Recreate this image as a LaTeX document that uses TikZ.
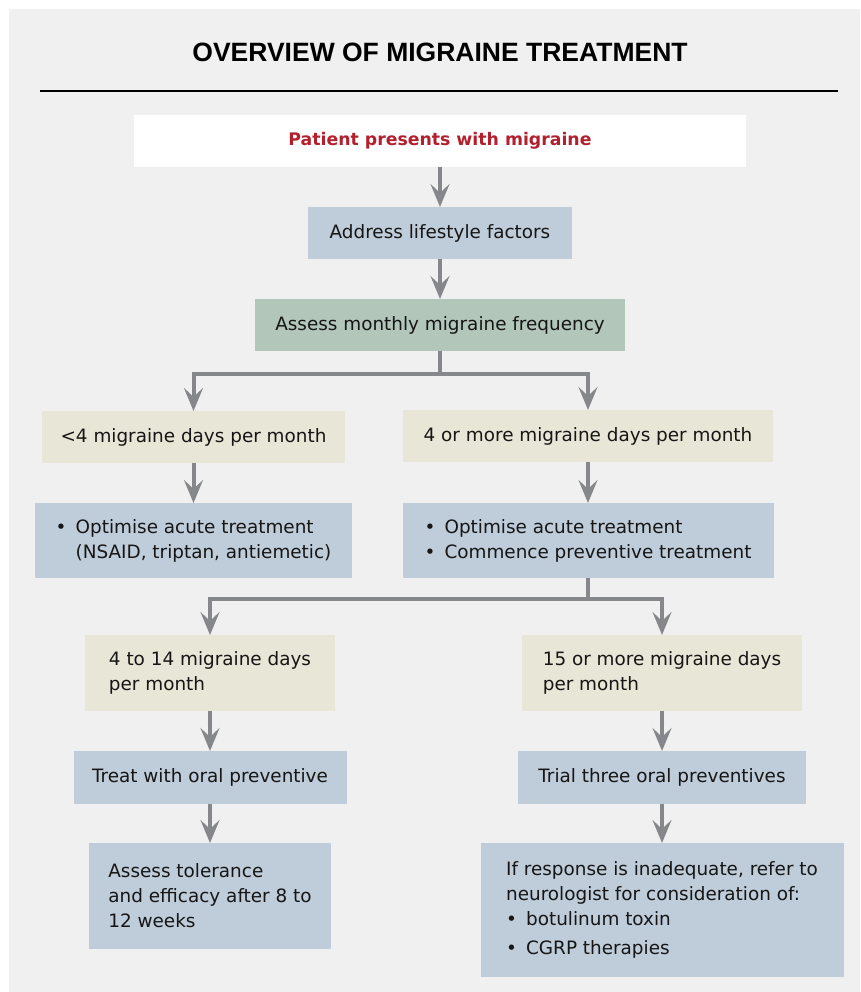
\documentclass[tikz,border=0pt]{standalone}
\usepackage{fontspec}
\setmainfont{DejaVu Sans}
\newfontfamily\headfont{Liberation Sans}
\usetikzlibrary{arrows.meta,positioning}
\definecolor{ink}{HTML}{161616}
\definecolor{bgcol}{HTML}{F0F0F0}
\definecolor{actcol}{HTML}{BFCCD9}
\definecolor{condcol}{HTML}{E8E6D6}
\definecolor{keycol}{HTML}{B2C6BA}
\definecolor{redcol}{HTML}{B2202D}
\definecolor{arrcol}{HTML}{86878B}
\newcommand{\bul}{\makebox[20pt][l]{\textbullet}}

\begin{document}
\begin{tikzpicture}[
  x=1pt, y=-1pt, font=\fontsize{18.4}{25}\selectfont,
  box/.style={text=ink, inner sep=3pt, outer sep=0pt, align=left,
              minimum height=52pt},
  act/.style={box, fill=actcol},
  cond/.style={box, fill=condcol},
  fl/.style={-{Stealth[length=23pt, width=19pt, inset=9pt]}, arrcol, line width=4pt},
  ln/.style={arrcol, line width=4pt}]

\useasboundingbox (0,0) rectangle (860,992);
\fill[bgcol] (9,9.5) rectangle (860,992);

% ================================================================ heading
\node[font=\headfont\bfseries\fontsize{26.5}{30}\selectfont, text=black, anchor=base] (title)
  at (440,62) {OVERVIEW OF MIGRAINE TREATMENT};
\draw[black, line width=1.3pt] (40,91) -- (838,91);

% ================================================================ trunk
\node[box, fill=white, minimum width=612pt, text=redcol,
      font=\fontsize{17.3}{25}\selectfont\bfseries] (start) at (440,141)
  {Patient presents with migraine};
\node[act, minimum width=264pt] (life) at (440,233) {Address lifestyle factors};
\node[box, fill=keycol, minimum width=370pt] (freq) at (440,325)
  {Assess monthly migraine frequency};

\draw[fl] (start) -- (life);
\draw[fl] (life) -- (freq);

% ================================================================ first split
\node[cond, minimum width=303pt] (low) at (193.5,437) {<4 migraine days per month};
\node[cond, minimum width=370pt] (high) at (588,436) {4 or more migraine days per month};

\coordinate (fork1) at (440,374);
\draw[ln] (freq) -- (fork1);
\draw[fl] (fork1) -| (low);
\draw[fl] (fork1) -| (high);

\node[act, minimum width=317pt, minimum height=75pt] (lowtx) at (193.5,540.5)
  {\bul Optimise acute treatment\\ \hspace*{20pt}(NSAID, triptan, antiemetic)};
\node[act, minimum width=371pt, minimum height=75pt] (hightx) at (588,540.5)
  {\bul Optimise acute treatment\\ \bul Commence preventive treatment};

\draw[fl] (low) -- (lowtx);
\draw[fl] (high) -- (hightx);

% ================================================================ second split
\node[cond, minimum width=250pt, minimum height=76pt] (mid) at (210,673)
  {4 to 14 migraine days\\ per month};
\node[cond, minimum width=280pt, minimum height=76pt] (chron) at (662,673)
  {15 or more migraine days\\ per month};

\coordinate (fork2) at (588,599);
\draw[ln] (hightx) -- (fork2);
\draw[fl] (fork2) -| (mid);
\draw[fl] (fork2) -| (chron);

\node[act, minimum width=273pt, minimum height=53pt] (oral) at (210,777.5)
  {Treat with oral preventive};
\node[act, minimum width=288pt, minimum height=53pt] (trial) at (662,777.5)
  {Trial three oral preventives};

\node[act, minimum width=242pt, minimum height=106pt] (assess) at (210,896)
  {Assess tolerance\\ and efficacy after 8 to\\ 12 weeks};
\node[act, minimum width=363pt, minimum height=134pt] (refer) at (662,910)
  {If response is inadequate, refer to\\ neurologist for consideration of:\\
   \bul botulinum toxin\\[4pt] \bul CGRP therapies};

\draw[fl] (mid) -- (oral);
\draw[fl] (oral) -- (assess);
\draw[fl] (chron) -- (trial);
\draw[fl] (trial) -- (refer);

\end{tikzpicture}
\end{document}
